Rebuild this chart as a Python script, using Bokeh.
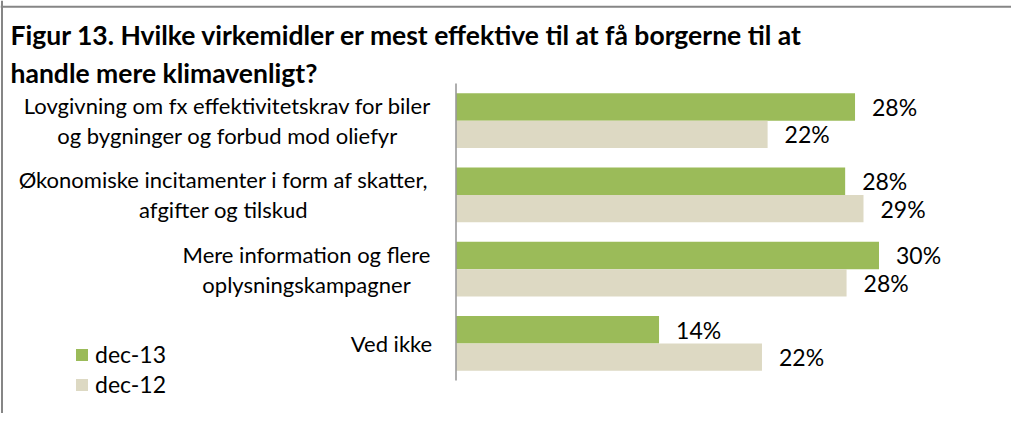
from bokeh.plotting import figure
from bokeh.models import ColumnDataSource, Range1d, Span, Label, Legend, LegendItem
from bokeh.transform import dodge
from bokeh.core.properties import value
from bokeh.embed import file_html
from bokeh.resources import INLINE

# ---- data ----
categories = [
    "Lovgivning om fx effektivitetskrav for biler\nog bygninger og forbud mod oliefyr",
    "Økonomiske incitamenter i form af skatter,\nafgifter og tilskud",
    "Mere information og flere\noplysningskampagner",
    "Ved ikke",
]
series_names = ["dec-13", "dec-12"]
dec13 = [28.3, 27.6, 30.0, 14.4]
dec12 = [22.1, 28.9, 27.7, 21.7]
title_lines = [
    "Figur 13. Hvilke virkemidler er mest effektive til at få borgerne til at",
    "handle mere klimavenligt?",
]

# ---- layout / style ----
W, H = 1011, 413
OX, OY = 2.0, 2.0          # observed page offset of the canvas
KX = 14.1                  # px per percent
AXIS_X = 457.5 - OX        # canvas x of the value axis
KY = 74.25                 # px per category band
TOP_Y = 85.0 - OY          # canvas y of first category band top
GREEN = "#9BBB59"
BEIGE = "#DDD9C3"
FONT = "Lato"
label_centers_px = [229 - OX, 225 - OX, 308 - OX, 393 - OX]

n = len(categories)
p = figure(width=W, height=H, output_backend="svg", toolbar_location=None,
           x_range=Range1d(-AXIS_X / KX, (W - AXIS_X) / KX),
           y_range=Range1d((H - TOP_Y) / KY, -TOP_Y / KY),
           x_axis_location=None, y_axis_location=None, min_border=0)
p.outline_line_color = None
p.xgrid.visible = False
p.ygrid.visible = False
p.background_fill_color = "white"
p.border_fill_color = "white"

src = ColumnDataSource(dict(
    y=[i + 0.5 for i in range(n)],
    dec13=dec13, dec12=dec12,
    lab13=[f"{round(v)}%" for v in dec13],
    lab12=[f"{round(v)}%" for v in dec12],
))

BAR_H = 0.37
OFF = 0.185
r13 = p.hbar(y=dodge("y", -OFF, range=p.y_range), left=0, right="dec13", height=BAR_H,
             source=src, fill_color=GREEN, line_color=None)
r12 = p.hbar(y=dodge("y", OFF, range=p.y_range), left=0, right="dec12", height=BAR_H,
             source=src, fill_color=BEIGE, line_color=None)

# value labels
for col, lab, off in (("dec13", "lab13", -OFF), ("dec12", "lab12", OFF)):
    p.text(x=col, y=dodge("y", off, range=p.y_range), text=lab, source=src,
           x_offset=17, text_align="left", text_baseline="middle",
           text_font=value(FONT), text_font_size="23px", text_color="black")

# category axis line
p.segment(x0=[0], y0=[0], x1=[0], y1=[n], line_color="#9a9a9a", line_width=1.6)

# category labels (each line centered in its block)
lx, ly, lt, lo = [], [], [], []
for i, cat in enumerate(categories):
    lines = cat.split("\n")
    for j, ln in enumerate(lines):
        lx.append((label_centers_px[i] - AXIS_X) / KX)
        ly.append(i + 0.5)
        lt.append(ln)
        lo.append((j - (len(lines) - 1) / 2) * 30)
p.text(x=lx, y=ly, text=lt, y_offset=lo, text_align="center", text_baseline="middle",
       text_font=value(FONT), text_font_size="22px", text_color="black")

# title
for t, page_base in zip(title_lines, [36.7, 74.5]):
    p.add_layout(Label(x=12 - OX, y=H - (page_base - OY), x_units="screen", y_units="screen",
                       text=t, text_font=FONT, text_font_size="26.5px", text_font_style="bold",
                       text_color="black", text_baseline="alphabetic"))

# chart border (top and left visible)
p.add_layout(Span(location=-TOP_Y / KY + (8.3 - OY) / KY, dimension="width",
                  line_color="#868686", line_width=2))
p.add_layout(Span(location=-AXIS_X / KX + (3.5 - OX) / KX, dimension="height",
                  line_color="#868686", line_width=2))

legend = Legend(items=[LegendItem(label=series_names[0], renderers=[r13]),
                       LegendItem(label=series_names[1], renderers=[r12])],
                location=(76 - OX, 15), orientation="vertical",
                glyph_width=15, glyph_height=15, label_height=24, spacing=2,
                label_standoff=6, padding=0, margin=0,
                border_line_color=None, background_fill_alpha=0,
                label_text_font=FONT, label_text_font_size="23px", label_text_color="black")
p.add_layout(legend)

open("out.html", "w").write(file_html(p, INLINE))
